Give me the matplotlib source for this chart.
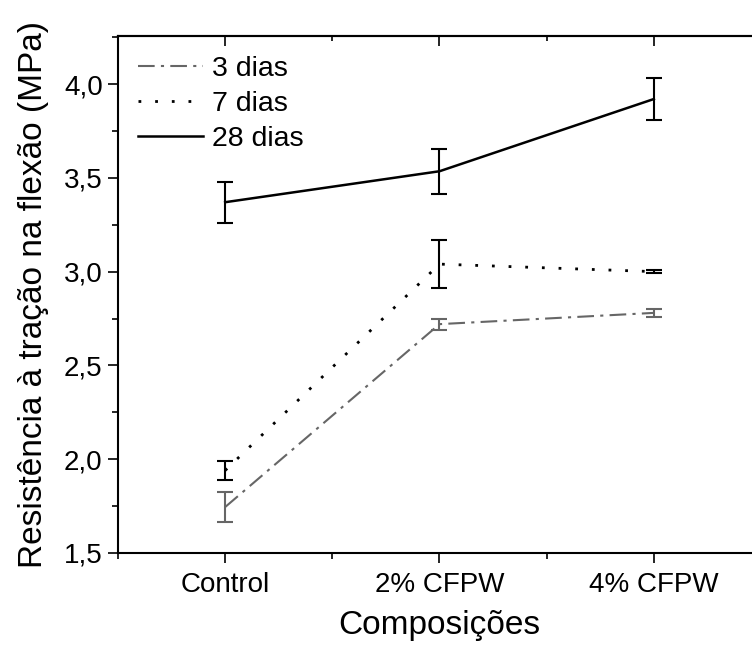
import numpy as np
import matplotlib
matplotlib.use("Agg")
from matplotlib import pyplot as plt
from matplotlib.lines import Line2D
from matplotlib.ticker import FuncFormatter, MultipleLocator

plt.rcParams["font.family"] = ["Liberation Sans", "DejaVu Sans"]

# Data
categories = ["Control", "2% CFPW", "4% CFPW"]
dias3 = [1.745, 2.72, 2.78]
dias3_err = [0.08, 0.03, 0.02]
dias7 = [1.94, 3.04, 3.00]
dias7_err = [0.05, 0.13, 0.01]
dias28 = [3.37, 3.535, 3.92]
dias28_err = [0.11, 0.12, 0.11]

x = np.arange(len(categories))

fig = plt.figure(figsize=(7.52, 6.45), dpi=100)
# right edge of the axes falls just outside the figure, like the reference
ax = fig.add_axes([118 / 752, 1 - 553 / 645, (761 - 118) / 752, (553 - 36) / 645])

styles = [
    ("3 dias", dias3, dias3_err, "#666666", (0, (8, 3, 1.5, 3)), 1.5),
    ("7 dias", dias7, dias7_err, "black", (0, (1, 5)), 2),
    ("28 dias", dias28, dias28_err, "black", "-", 1.8),
]
handles = []
for label, vals, errs, col, ls, lw in styles:
    ax.errorbar(x, vals, yerr=errs, color=col, linestyle=ls, linewidth=lw,
                capsize=6, capthick=1.5, elinewidth=1.5)
    handles.append(Line2D([], [], color=col, linestyle=ls, linewidth=lw, label=label))

ax.set_xlim(-0.5, 2.5)
ax.set_ylim(1.5, 4.256)
ax.set_xticks(x)
ax.set_xticklabels(categories)
ax.xaxis.set_minor_locator(MultipleLocator(0.5))
ax.yaxis.set_major_locator(MultipleLocator(0.5))
ax.yaxis.set_minor_locator(MultipleLocator(0.25))
ax.yaxis.set_major_formatter(FuncFormatter(lambda v, p: f"{v:.1f}".replace(".", ",")))

ax.tick_params(axis="both", which="major", labelsize=20, length=7, width=1.2, direction="out")
ax.tick_params(axis="both", which="minor", length=4, width=1.2, direction="out")
ax.tick_params(axis="x", which="major", pad=7)
ax.tick_params(axis="y", which="major", pad=4)

# top axis: inward ticks, no labels
top = ax.secondary_xaxis("top")
top.set_xticks(x)
top.xaxis.set_minor_locator(MultipleLocator(0.5))
top.tick_params(which="major", direction="in", length=7, width=1.2, labeltop=False)
top.tick_params(which="minor", direction="in", length=3.5, width=1.2)
top.spines["top"].set_linewidth(1.5)

for spine in ax.spines.values():
    spine.set_linewidth(1.5)

ax.set_xlabel("Composições", fontsize=24, labelpad=8)
ax.set_ylabel("Resistência à tração na flexão (MPa)", fontsize=24, labelpad=11)

ax.legend(handles=handles, loc="upper left", frameon=False, fontsize=20.5,
          handlelength=2.3, handletextpad=0.3, labelspacing=0.32,
          borderaxespad=0.3, borderpad=0.4)

fig.savefig("out.png", dpi=100)
